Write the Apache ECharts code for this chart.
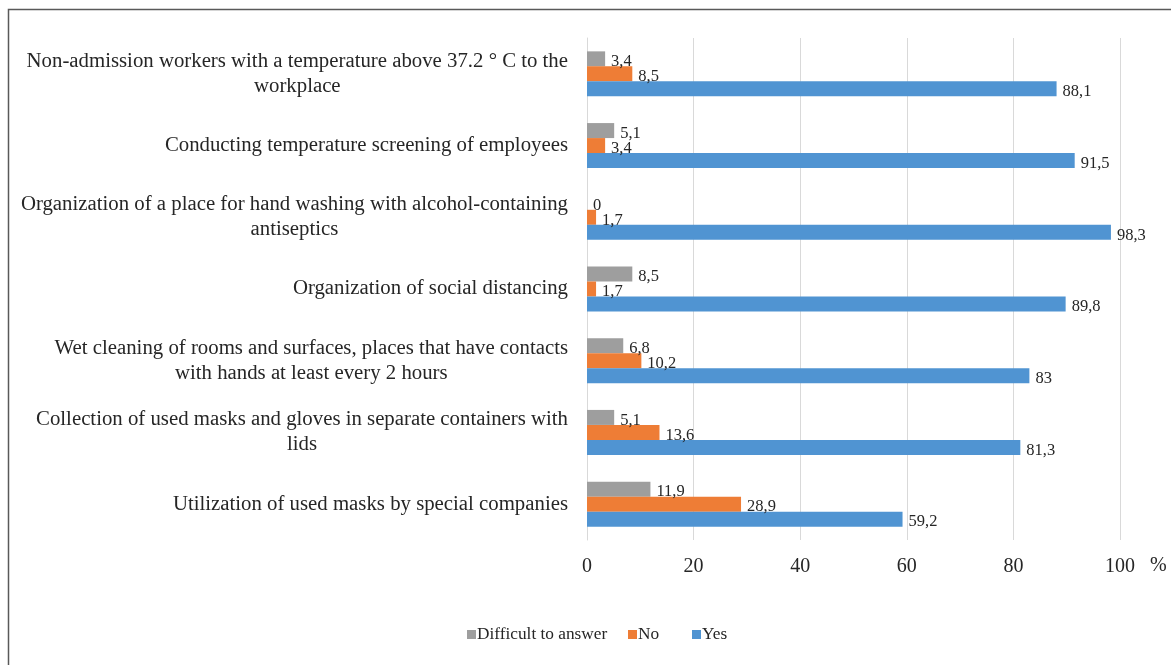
<!DOCTYPE html>
<html>
<head>
<meta charset="utf-8">
<script src="https://cdn.jsdelivr.net/npm/echarts@6/dist/echarts.min.js"></script>
<style>
    html, body {margin: 0; padding: 0; background: #fff;}
    #chart {width: 1171px; height: 665px;}
</style>
</head>
<body>
<div id="chart"></div>
<script>
// categories from top to bottom
var categories = [
    'Non-admission workers with a temperature above 37.2 ° C to the\nworkplace',
    'Conducting temperature screening of employees',
    'Organization of a place for hand washing with alcohol-containing\nantiseptics',
    'Organization of social distancing',
    'Wet cleaning of rooms and surfaces, places that have contacts\nwith hands at least every 2 hours',
    'Collection of used masks and gloves in separate containers with\nlids',
    'Utilization of used masks by special companies'
];
var difficultData = [3.4, 5.1, 0, 8.5, 6.8, 5.1, 11.9];
var noData = [8.5, 3.4, 1.7, 1.7, 10.2, 13.6, 28.9];
var yesData = [88.1, 91.5, 98.3, 89.8, 83, 81.3, 59.2];
var seriesNames = ['Difficult to answer', 'No', 'Yes'];

var font = "'Liberation Serif', 'Times New Roman', serif";
var textColor = '#262626';

/** bar series with comma decimal labels */
function makeSeries(name, data, color) {
    return {
        name: name,
        type: 'bar',
        data: data,
        barWidth: 15,
        barGap: '0%',
        itemStyle: {color: color},
        label: {
            show: true,
            position: 'right',
            distance: 6,
            offset: [0, 3],
            fontFamily: font,
            fontSize: 16.5,
            color: textColor,
            formatter: function (p) {
                return String(p.value).replace('.', ',');
            }
        }
    };
}

/** one legend entry, placed like the excel legend */
function makeLegend(name, left) {
    return {
        data: [name],
        left: left,
        top: 626,
        padding: 0,
        icon: 'rect',
        itemWidth: 9,
        itemHeight: 9,
        textStyle: {fontFamily: font, fontSize: 17.3, color: textColor, padding: [0, 0, 0, -4]}
    };
}

var chart = echarts.init(document.getElementById('chart'));
chart.setOption({
    animation: false,
    backgroundColor: '#fff',
    graphic: [{
        type: 'rect',
        shape: {x: 8.5, y: 9.5, width: 1170, height: 700},
        style: {fill: 'none', stroke: '#595959', lineWidth: 1.5},
        silent: true
    }],
    grid: {left: 587, right: 51, top: 38, bottom: 125},
    legend: [
        makeLegend(seriesNames[0], 467),
        makeLegend(seriesNames[1], 628),
        makeLegend(seriesNames[2], 692)
    ],
    xAxis: {
        type: 'value',
        min: 0,
        max: 100,
        interval: 20,
        name: '%',
        nameLocation: 'end',
        nameGap: 30,
        nameTextStyle: {fontFamily: font, fontSize: 20, color: textColor, verticalAlign: 'top', padding: [16, 0, 0, 0]},
        axisLine: {show: false},
        axisTick: {show: false},
        axisLabel: {fontFamily: font, fontSize: 20, color: textColor, margin: 17},
        splitLine: {lineStyle: {color: '#d9d9d9', width: 1}}
    },
    yAxis: {
        type: 'category',
        data: categories,
        inverse: true,
        axisLine: {show: true, lineStyle: {color: '#d9d9d9'}},
        axisTick: {show: false},
        axisLabel: {
            margin: 19,
            align: 'right',
            lineHeight: 25,
            formatter: function (value) {
                return value.split('\n').map(function (l) {
                    return '{c|' + l + '}';
                }).join('\n');
            },
            rich: {
                c: {align: 'center', fontFamily: font, fontSize: 20.8, color: textColor, lineHeight: 25}
            }
        }
    },
    series: [
        makeSeries(seriesNames[0], difficultData, '#9e9e9e'),
        makeSeries(seriesNames[1], noData, '#ee7d36'),
        makeSeries(seriesNames[2], yesData, '#5094d2')
    ]
});
</script>
</body>
</html>
